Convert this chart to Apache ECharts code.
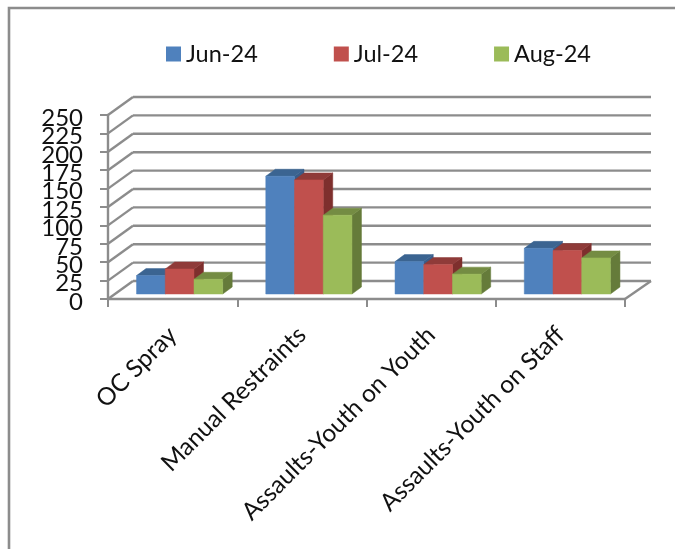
<!DOCTYPE html>
<html><head><meta charset="utf-8">
<style>html,body{margin:0;padding:0;background:#fff}#c{width:675px;height:549px}</style>
<script src="https://cdn.jsdelivr.net/npm/echarts@6/dist/echarts.min.js"></script>
</head><body><div id="c"></div>
<script>
const categories = ['OC Spray','Manual Restraints','Assaults-Youth on Youth','Assaults-Youth on Staff'];
const jun24 = [25,160,44,62];
const jul24 = [34,155,40,59];
const aug24 = [20,107,27,49];
const seriesNames = ['Jun-24','Jul-24','Aug-24'];
const yTicks = [0,25,50,75,100,125,150,175,200,225,250];
const palettes = [
  {front:'#4F81BD',top:'#3B6491',side:'#385D8A'},
  {front:'#C0504D',top:'#8F3B39',side:'#7E2F2D'},
  {front:'#9BBB59',top:'#748C43',side:'#657B3A'}
];
const WALL_DX=25, WALL_DY=-18, INSET_X=7, INSET_Y=-5, DEPTH_X=9.5, DEPTH_Y=-7;
const GRID='#8C8C8C';
const chart = echarts.init(document.getElementById('c'),null,{renderer:'canvas'});
function wallItem(params,api){
  const cs=params.coordSys; const v=api.value(0); const p=api.coord([0,v]);
  const y=p[1], l=cs.x, r=cs.x+cs.width;
  const st={stroke:GRID,lineWidth:2.4,fill:null};
  return {type:'group',silent:true,children:[
    {type:'line',shape:{x1:l,y1:y,x2:l+WALL_DX,y2:y+WALL_DY},style:st},
    {type:'line',shape:{x1:l+WALL_DX,y1:y+WALL_DY,x2:r+WALL_DX+1,y2:y+WALL_DY},style:st},
    {type:'text',x:l-25,y:y+3,style:{text:String(v),textAlign:'right',textVerticalAlign:'middle',font:'24px Lato',fill:'#111'}}
  ].concat(v===0?[{type:'line',shape:{x1:r,y1:y,x2:r+WALL_DX+1,y2:y+WALL_DY},style:st}]:[])};
}
function barItem(idx){
  return function(params,api){
    const c=api.coord([api.value(0),api.value(1)]);
    const base=api.coord([api.value(0),0]);
    const band=api.size([1,0])[0], w=band/4.5;
    const x0=c[0]-1.5*w+idx*w+INSET_X, x1=x0+w;
    const yt=c[1]+INSET_Y, yb=base[1]+INSET_Y;
    const pal=palettes[idx];
    const poly=(pts,fill)=>({type:'polygon',shape:{points:pts},style:{fill:fill,stroke:fill,lineWidth:0.5}});
    return {type:'group',children:[
      poly([[x1,yb],[x1+DEPTH_X,yb+DEPTH_Y],[x1+DEPTH_X,yt+DEPTH_Y],[x1,yt]],pal.side),
      poly([[x0,yt],[x0+DEPTH_X,yt+DEPTH_Y],[x1+DEPTH_X,yt+DEPTH_Y],[x1,yt]],pal.top),
      poly([[x0,yb],[x1,yb],[x1,yt],[x0,yt]],pal.front)
    ]};
  };
}
const values=[jun24,jul24,aug24];
chart.setOption({
  animation:false,
  backgroundColor:'#fff',
  graphic:[
    {type:'polyline',silent:true,shape:{points:[[9,549],[9,8],[675,8]]},style:{stroke:'#8C8C8C',lineWidth:2.6,fill:null}}
  ],
  legend:{left:166,top:42,padding:0,itemWidth:15,itemHeight:15,itemGap:76,icon:'rect',
    data:seriesNames,
    textStyle:{fontFamily:'Lato',fontSize:23.5,color:'#111'}},
  grid:{left:108,right:50,top:115,height:184,containLabel:false},
  xAxis:{type:'category',data:categories,
    axisLine:{lineStyle:{color:GRID,width:2.4}},
    axisTick:{show:true,alignWithLabel:false,length:8,lineStyle:{color:GRID,width:2}},
    splitLine:{show:false},
    axisLabel:{interval:0,rotate:45,margin:32,fontFamily:'Lato',fontSize:24.5,color:'#111'}},
  yAxis:{type:'value',min:0,max:250,interval:25,
    axisLine:{show:true,lineStyle:{color:GRID,width:2.4}},
    axisTick:{show:true,length:8,lineStyle:{color:GRID,width:2}},
    splitLine:{show:false},
    axisLabel:{show:false}},
  series:[
    {type:'custom',name:'wall',silent:true,coordinateSystem:'cartesian2d',renderItem:wallItem,
     data:yTicks.map(v=>[v]),encode:{y:0},z:1,clip:false,tooltip:{show:false}}
  ].concat(seriesNames.map((n,i)=>({
    type:'custom',name:n,coordinateSystem:'cartesian2d',renderItem:barItem(i),
    itemStyle:{color:palettes[i].front},clip:false,z:2+i,
    data:values[i].map((v,k)=>[k,v]),encode:{x:0,y:1}
  })))
});
</script></body></html>
